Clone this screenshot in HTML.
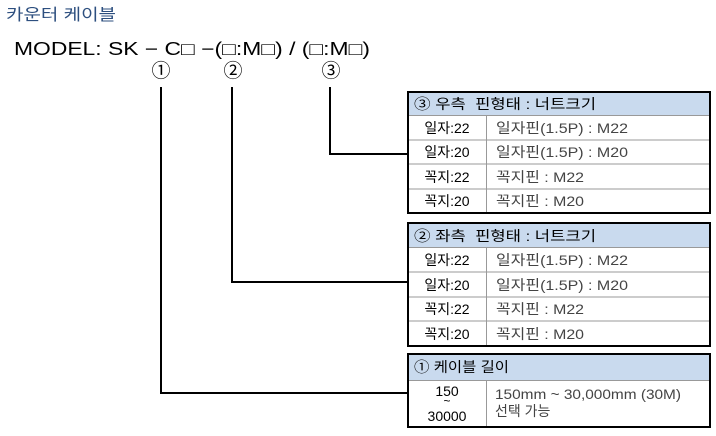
<!DOCTYPE html>
<html><head><meta charset="utf-8"><style>
html,body{margin:0;padding:0;background:#fff;}
svg{display:block;}
text{font-family:"Liberation Sans","Noto Sans CJK KR",sans-serif;}
</style></head><body>
<svg width="716" height="436" viewBox="0 0 716 436" xmlns="http://www.w3.org/2000/svg">
<text x="6" y="20" font-size="16" fill="#2d4f7f" textLength="110" lengthAdjust="spacingAndGlyphs">카운터 케이블</text>
<text x="14" y="55" font-size="18" fill="#000" textLength="356" lengthAdjust="spacingAndGlyphs">MODEL: SK − C□ −(□:M□) / (□:M□)</text>
<g font-size="19" fill="#000" text-anchor="middle">
<text x="161" y="77">①</text><text x="233" y="77">②</text><text x="331" y="77">③</text>
</g>
<g stroke="#000" stroke-width="2" fill="none">
<polyline points="161,87 161,393 408,393"/>
<polyline points="232,87 232,282 408,282"/>
<polyline points="330,87 330,154 408,154"/>
</g>
<!-- Table 3 -->
<g>
<rect x="408" y="92" width="302" height="23" fill="#c9daee"/>
<g stroke="#999" stroke-width="1">
<line x1="408" y1="115.5" x2="710" y2="115.5"/>
<line x1="408" y1="140" x2="710" y2="140"/>
<line x1="408" y1="164" x2="710" y2="164"/>
<line x1="408" y1="189" x2="710" y2="189"/>
<line x1="486.5" y1="115" x2="486.5" y2="213"/>
</g>
<rect x="408" y="92" width="302" height="121" fill="none" stroke="#000" stroke-width="2"/>
<text x="414" y="109" font-size="14" textLength="182" lengthAdjust="spacingAndGlyphs">③ 우측&#160;&#160;핀형태 : 너트크기</text>
<g font-size="14" text-anchor="middle">
<text x="447" y="133">일자:22</text><text x="447" y="157">일자:20</text><text x="447" y="182">꼭지:22</text><text x="447" y="206">꼭지:20</text>
</g>
<g font-size="14" fill="#444">
<text x="496" y="133" textLength="132" lengthAdjust="spacingAndGlyphs">일자핀(1.5P) : M22</text><text x="496" y="157" textLength="132" lengthAdjust="spacingAndGlyphs">일자핀(1.5P) : M20</text><text x="496" y="182" textLength="88" lengthAdjust="spacingAndGlyphs">꼭지핀 : M22</text><text x="496" y="206" textLength="88" lengthAdjust="spacingAndGlyphs">꼭지핀 : M20</text>
</g>
</g>
<!-- Table 2 -->
<g>
<rect x="408" y="223" width="302" height="24" fill="#c9daee"/>
<g stroke="#999" stroke-width="1">
<line x1="408" y1="247.5" x2="710" y2="247.5"/>
<line x1="408" y1="272" x2="710" y2="272"/>
<line x1="408" y1="297" x2="710" y2="297"/>
<line x1="408" y1="321" x2="710" y2="321"/>
<line x1="486.5" y1="247" x2="486.5" y2="346"/>
</g>
<rect x="408" y="223" width="302" height="123" fill="none" stroke="#000" stroke-width="2"/>
<text x="414" y="241" font-size="14" textLength="182" lengthAdjust="spacingAndGlyphs">② 좌측&#160;&#160;핀형태 : 너트크기</text>
<g font-size="14" text-anchor="middle">
<text x="447" y="265">일자:22</text><text x="447" y="290">일자:20</text><text x="447" y="314">꼭지:22</text><text x="447" y="339">꼭지:20</text>
</g>
<g font-size="14" fill="#444">
<text x="496" y="265" textLength="132" lengthAdjust="spacingAndGlyphs">일자핀(1.5P) : M22</text><text x="496" y="290" textLength="132" lengthAdjust="spacingAndGlyphs">일자핀(1.5P) : M20</text><text x="496" y="314" textLength="88" lengthAdjust="spacingAndGlyphs">꼭지핀 : M22</text><text x="496" y="339" textLength="88" lengthAdjust="spacingAndGlyphs">꼭지핀 : M20</text>
</g>
</g>
<!-- Table 1 -->
<g>
<rect x="408" y="354" width="302" height="26" fill="#c9daee"/>
<g stroke="#999" stroke-width="1">
<line x1="408" y1="380.5" x2="710" y2="380.5"/>
<line x1="486.5" y1="380" x2="486.5" y2="427"/>
</g>
<rect x="408" y="354" width="302" height="73" fill="none" stroke="#000" stroke-width="2"/>
<text x="414" y="372" font-size="14" textLength="95" lengthAdjust="spacingAndGlyphs">① 케이블 길이</text>
<g font-size="14" text-anchor="middle">
<text x="447" y="396">150</text><text x="447" y="405" font-size="12">~</text><text x="447" y="421">30000</text>
</g>
<g font-size="14" fill="#444">
<text x="495" y="399" textLength="186" lengthAdjust="spacingAndGlyphs">150mm ~ 30,000mm (30M)</text><text x="495" y="416">선택 가능</text>
</g>
</g>
</svg>
</body></html>
